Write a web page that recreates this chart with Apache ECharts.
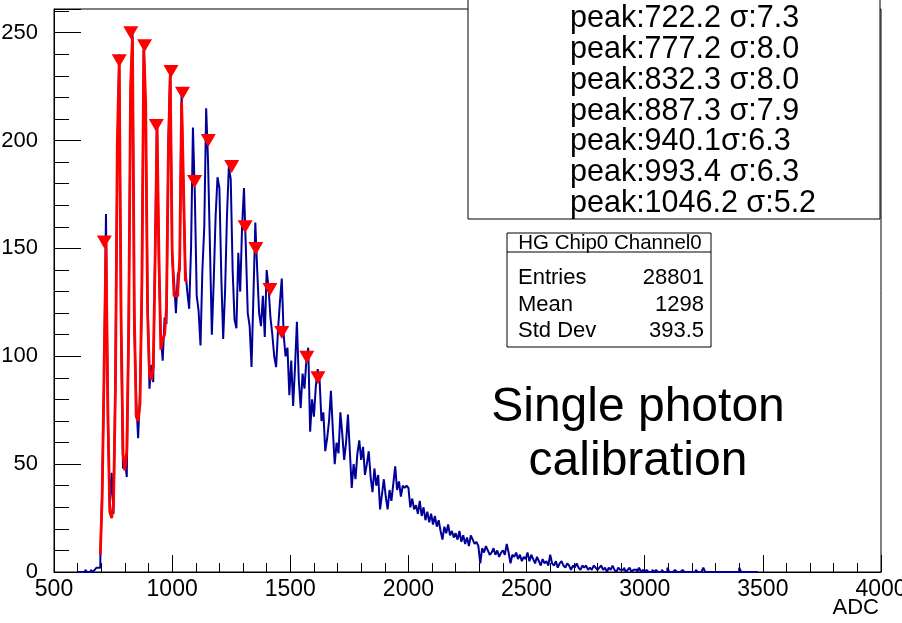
<!DOCTYPE html>
<html><head><meta charset="utf-8">
<script src="https://cdn.jsdelivr.net/npm/echarts@6/dist/echarts.min.js"></script>
<style>html,body{margin:0;padding:0;background:#fff}#c{width:902px;height:623px}</style>
</head><body><div id="c"></div>
<script>
// Histogram: bins of width 8 starting at ADC 600
const binStart = 600, binWidth = 8;
const countsA = [0,0,0,0,1,0,0,1,0,1,2,2,6];
const countsB = [40,88,166,70,30,46,27,92,190,240,110,48,52,44,118,215,252,112,80,62,83,128,245,210,128,85,96,88,150,210,140,110,98,118,115,200,234,145,135,120,138,140,222,175,140];
const countsC = [130,122,150,206,175,128,121,105,140,160,215,190,151,110,135,165,183,178,137,108,130,165,188,182,140,117,113,148,130,160,178,150,120,114,95,128,162,140,120,114,128,109,140,132,118,110,100];
const countsD = [95,112,125,136,110,100,104,82,98,77,95,116,89,76,92,85,98,104,65,80,72,86,94,89,70,74,56,62,70,84,66,50,60,55,74,64,52,60,73,56,39,50,43,55,61];
const countsE = [52,58,45,50,56,44,37,48,40,45,29,36,43,35,29,38,33,41,49,38,42,35,40,39,40,39,30,34,29,31,27,33,26,30,24,28,23,27,22,26,21,24,19,15,21,18,22,17,19,16];
const countsF = [18,15,19,14,17,13,16,12,17,15,13,14,12,4,11,9,12,10,8,9,11,8,10,7,9,10,8,13,9,4,8,7,9,6,8,5,7,6,9,5,8,6,4,7,5,3,6,4,5,3];
const countsG = [8,4,3,5,2,4,5,3,2,4,3,1,3,2,4,2,1,3,2,3,1,2,1,3,2,1,2,3,1,2,0,2,1,3,1,0,2,1,1,2,0,1,2,0,1,1,0,2,0,1];
const countsH = [0,1,0,0,1,0,1,0,0,1,0,0,2,0,0,0,1,0,0,0,1,0,0,0,0,0,0,1,0,0,0,2,0,0,0,0,0,0,0,0,0,0,0,0,0,0,0,0,0,0,2,0,0,0,0,0,0,0,0,0];

// Fit curve (red), same binning, starting at ADC 696
const fitStart = 696;
const fitValues = [8,35,95,152,75,28,25,32,85,200,236,118,55,47,56,110,225,248,120,72,70,78,135,242,218,120,92,89,95,145,207,148,103,108,110,122,195,230,150,128,128,130,145,218,180,135];

// Peak markers
const peakX = [713,776,825,883,933,995,1044,1095,1153,1252,1309,1354,1414,1464,1570,1617];
const peakY = [153,237,250,244,207,232,222,181,200,188,160,150,131,111,99.5,90];

// Texts
const fitLines = ['peak:722.2 σ:7.3','peak:777.2 σ:8.0','peak:832.3 σ:8.0','peak:887.3 σ:7.9','peak:940.1σ:6.3','peak:993.4 σ:6.3','peak:1046.2 σ:5.2'];
const statsTitle = 'HG Chip0 Channel0';
const statsLabels = ['Entries','Mean','Std Dev'];
const statsValues = ['28801','1298','393.5'];
const noteLines = ['Single photon','calibration'];
const xName = 'ADC';

const counts = [].concat(countsA,countsB,countsC,countsD,countsE,countsF,countsG,countsH);
const histData = counts.map((v,i)=>[binStart+i*binWidth, v]);
histData.push([binStart+counts.length*binWidth, counts[counts.length-1]]);
const fitData = fitValues.map((v,i)=>[fitStart+i*binWidth, v]);
fitData.push([fitStart+fitValues.length*binWidth, fitValues[fitValues.length-1]]);
const peakData = peakX.map((x,i)=>[x, peakY[i]]);

const FONT = '"Liberation Sans", Arial, Helvetica, sans-serif';
const chart = echarts.init(document.getElementById('c'), null, {renderer:'canvas'});

const graphics = [];
graphics.push({type:'rect', z:10, shape:{x:468,y:-2,width:412,height:221}, style:{fill:'#fff',stroke:'#000',lineWidth:1}});
fitLines.forEach((t,i)=>graphics.push({type:'text', z:11, x:570, y:19+i*30.7, style:{text:t, fontSize:30.5, fontFamily:FONT, fill:'#000', align:'left', verticalAlign:'middle'}}));
graphics.push({type:'rect', z:10, shape:{x:507,y:233,width:204,height:114}, style:{fill:'#fff',stroke:'#000',lineWidth:1}});
graphics.push({type:'line', z:11, shape:{x1:507,y1:252,x2:711,y2:252}, style:{stroke:'#000',lineWidth:1}});
graphics.push({type:'text', z:11, x:610, y:243, style:{text:statsTitle, fontSize:20.5, fontFamily:FONT, fill:'#000', align:'center', verticalAlign:'middle'}});
statsLabels.forEach((t,i)=>{
  graphics.push({type:'text', z:11, x:518, y:278+i*26.7, style:{text:t, fontSize:22, fontFamily:FONT, fill:'#000', align:'left', verticalAlign:'middle'}});
  graphics.push({type:'text', z:11, x:704, y:278+i*26.7, style:{text:statsValues[i], fontSize:22, fontFamily:FONT, fill:'#000', align:'right', verticalAlign:'middle'}});
});
noteLines.forEach((t,i)=>graphics.push({type:'text', z:11, x:638, y:408+i*54, style:{text:t, fontSize:48, fontFamily:FONT, fill:'#000', align:'center', verticalAlign:'middle'}}));
graphics.push({type:'text', z:11, x:879, y:608, style:{text:xName, fontSize:22, fontFamily:FONT, fill:'#000', align:'right', verticalAlign:'middle'}});

chart.setOption({
  animation:false,
  backgroundColor:'#fff',
  grid:{left:54, right:21, top:9, bottom:51, show:true, borderColor:'#000', borderWidth:1, backgroundColor:'transparent', containLabel:false, outerBoundsMode:'none'},
  xAxis:{type:'value', min:500, max:4000, interval:500,
    axisLine:{show:true, lineStyle:{color:'#000', width:1}},
    axisTick:{show:true, inside:true, length:17, lineStyle:{color:'#000', width:1}},
    minorTick:{show:true, splitNumber:5, length:9, lineStyle:{color:'#000', width:1}},
    splitLine:{show:false}, minorSplitLine:{show:false},
    axisLabel:{fontSize:23, fontFamily:FONT, color:'#000', margin:6, formatter:(v)=>String(v)}
  },
  yAxis:[
    {type:'value', min:0, max:261, interval:50, position:'left',
      axisLine:{show:true, lineStyle:{color:'#000', width:1}},
      axisTick:{show:true, inside:true, length:27, lineStyle:{color:'#000', width:1}},
      splitLine:{show:false},
      axisLabel:{fontSize:22, fontFamily:FONT, color:'#000', margin:16, formatter:(v)=> (v%50===0 ? String(v) : '')}
    },
    {type:'value', min:0, max:261, interval:10, position:'left', offset:0,
      axisLine:{show:false},
      axisTick:{show:true, inside:true, length:15, lineStyle:{color:'#000', width:1}},
      splitLine:{show:false},
      axisLabel:{show:false}
    }
  ],
  series:[
    {type:'line', name:'hist', data:histData, step:'end', showSymbol:false, symbol:'none', z:2,
      lineStyle:{color:'#000099', width:2}},
    {type:'line', name:'fit', data:fitData, step:'end', showSymbol:false, symbol:'none', z:3,
      lineStyle:{color:'#ff0000', width:2.8}},
    {type:'scatter', name:'peaks', data:peakData, symbol:'triangle', symbolRotate:180, symbolSize:[15,13], z:4,
      itemStyle:{color:'#ff0000', opacity:1}}
  ],
  graphic:graphics
});
</script></body></html>
